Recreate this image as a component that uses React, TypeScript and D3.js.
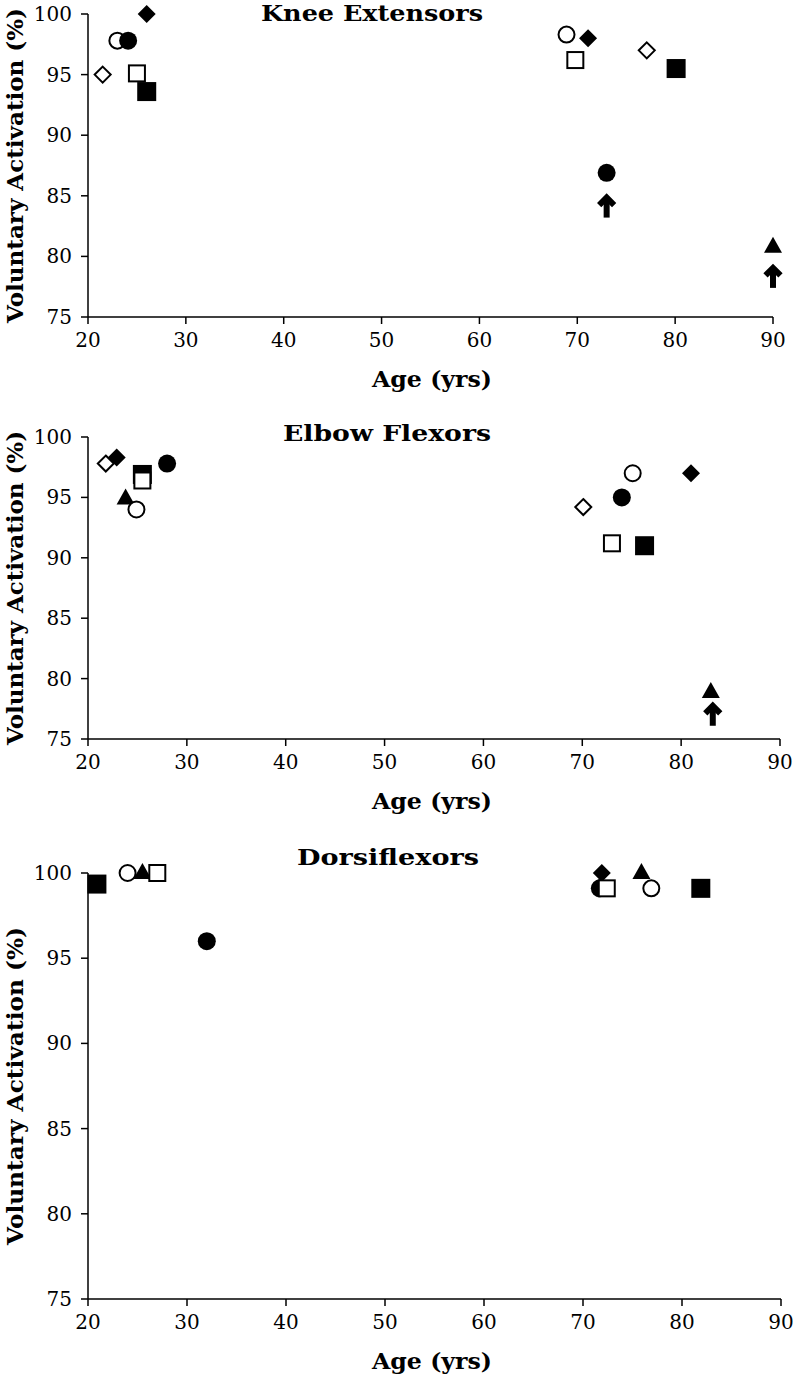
import React from "react";
import * as d3 from "d3";

// ---------- data ----------
const xTicks = [20, 30, 40, 50, 60, 70, 80, 90];
const yTicks = [75, 80, 85, 90, 95, 100];
const titles = ["Knee Extensors", "Elbow Flexors", "Dorsiflexors"];
const xLabel = "Age (yrs)";
const yLabel = "Voluntary Activation (%)";

// [age, voluntary activation %]
const kneeFilledTriangle = [[90, 80.8]];
const kneeOpenDiamond = [[21.5, 95.0], [77.1, 97.0]];
const kneeFilledDiamond = [[26.0, 100], [71.1, 98.0]];
const kneeOpenCircle = [[23.0, 97.8], [68.9, 98.3]];
const kneeFilledCircle = [[24.1, 97.8], [73.0, 86.9]];
const kneeFilledSquare = [[26.0, 93.6], [80.1, 95.5]];
const kneeOpenSquare = [[25.0, 95.1], [69.8, 96.2]];
const kneeArrows = [[73.0, 85.1], [90, 79.3]];

const elbowFilledTriangle = [[23.8, 94.9], [83.0, 78.9]];
const elbowOpenDiamond = [[21.8, 97.8], [70.1, 94.2]];
const elbowFilledDiamond = [[22.9, 98.3], [81.0, 97.0]];
const elbowOpenCircle = [[24.9, 94.0], [75.1, 97.0]];
const elbowFilledCircle = [[28.0, 97.8], [74.0, 95.0]];
const elbowFilledSquare = [[25.5, 96.9], [76.3, 91.0]];
const elbowOpenSquare = [[25.5, 96.4], [73.0, 91.2]];
const elbowArrows = [[83.2, 78.0]];

const dorsiFilledTriangle = [[25.5, 100], [75.9, 100]];
const dorsiOpenDiamond: number[][] = [];
const dorsiFilledDiamond = [[71.9, 100]];
const dorsiOpenCircle = [[24.0, 100], [76.9, 99.1]];
const dorsiFilledCircle = [[32.0, 96.0], [71.7, 99.1]];
const dorsiFilledSquare = [[20.9, 99.35], [81.9, 99.1]];
const dorsiOpenSquare = [[27.0, 100], [72.4, 99.1]];
const dorsiArrows: number[][] = [];

type Series = { shape: string; filled: boolean; pts: number[][] };

const panelSeries: Series[][] = [
  [
    { shape: "triangle", filled: true, pts: kneeFilledTriangle },
    { shape: "diamond", filled: false, pts: kneeOpenDiamond },
    { shape: "diamond", filled: true, pts: kneeFilledDiamond },
    { shape: "circle", filled: false, pts: kneeOpenCircle },
    { shape: "circle", filled: true, pts: kneeFilledCircle },
    { shape: "square", filled: true, pts: kneeFilledSquare },
    { shape: "square", filled: false, pts: kneeOpenSquare },
  ],
  [
    { shape: "triangle", filled: true, pts: elbowFilledTriangle },
    { shape: "diamond", filled: false, pts: elbowOpenDiamond },
    { shape: "diamond", filled: true, pts: elbowFilledDiamond },
    { shape: "circle", filled: false, pts: elbowOpenCircle },
    { shape: "circle", filled: true, pts: elbowFilledCircle },
    { shape: "square", filled: true, pts: elbowFilledSquare },
    { shape: "square", filled: false, pts: elbowOpenSquare },
  ],
  [
    { shape: "triangle", filled: true, pts: dorsiFilledTriangle },
    { shape: "diamond", filled: false, pts: dorsiOpenDiamond },
    { shape: "diamond", filled: true, pts: dorsiFilledDiamond },
    { shape: "circle", filled: false, pts: dorsiOpenCircle },
    { shape: "circle", filled: true, pts: dorsiFilledCircle },
    { shape: "square", filled: true, pts: dorsiFilledSquare },
    { shape: "square", filled: false, pts: dorsiOpenSquare },
  ],
];
const panelArrows = [kneeArrows, elbowArrows, dorsiArrows];

// ---------- layout ----------
const W = 793;
const H = 1375;
const layouts = [
  { x0: 88, x1: 773, yTop: 14, yBot: 317, titleX: 372, titleY: 21, titleW: 222 },
  { x0: 88, x1: 780, yTop: 437, yBot: 739, titleX: 387, titleY: 441, titleW: 208 },
  { x0: 88, x1: 781, yTop: 873, yBot: 1299, titleX: 388, titleY: 865, titleW: 182 },
];

const FONT = "'DejaVu Serif', Georgia, serif";

function Marker({ shape, filled, x, y }: { shape: string; filled: boolean; x: number; y: number }) {
  const fill = filled ? "#000" : "#fff";
  const stroke = "#000";
  const sw = filled ? 0 : 2;
  if (shape === "circle") {
    return <circle cx={x} cy={y} r={filled ? 9 : 8} fill={fill} stroke={stroke} strokeWidth={sw} />;
  }
  if (shape === "square") {
    const s = filled ? 19 : 16;
    return <rect x={x - s / 2} y={y - s / 2} width={s} height={s} fill={fill} stroke={stroke} strokeWidth={sw} />;
  }
  if (shape === "diamond") {
    const h = filled ? 9 : 8;
    return (
      <path d={`M${x},${y - h}L${x + h},${y}L${x},${y + h}L${x - h},${y}Z`} fill={fill} stroke={stroke} strokeWidth={sw} />
    );
  }
  return <path d={`M${x},${y - 10}L${x + 9},${y + 6}L${x - 9},${y + 6}Z`} fill={fill} stroke={stroke} strokeWidth={sw} />;
}

function Arrow({ x, y }: { x: number; y: number }) {
  return (
    <g fill="none" stroke="#000" strokeWidth={6} strokeLinejoin="miter">
      <path d={`M${x - 7.5},${y + 10.5}L${x},${y + 3}L${x + 7.5},${y + 10.5}`} />
      <path d={`M${x},${y + 3}L${x},${y + 23}`} strokeLinecap="butt" />
    </g>
  );
}

function Panel({ idx }: { idx: number }) {
  const L = layouts[idx];
  const xs = d3.scaleLinear().domain([20, 90]).range([L.x0, L.x1]);
  const ys = d3.scaleLinear().domain([75, 100]).range([L.yBot, L.yTop]);
  const series = panelSeries[idx];
  const arrows = panelArrows[idx];
  const midY = (L.yTop + L.yBot) / 2;
  const yLabLen = Math.min(318, L.yBot - L.yTop + 12);
  return (
    <g>
      <text
        x={L.titleX}
        y={L.titleY}
        textAnchor="middle"
        fontFamily={FONT}
        fontWeight="bold"
        fontSize={22}
        textLength={L.titleW}
        lengthAdjust="spacingAndGlyphs"
      >
        {titles[idx]}
      </text>
      <line x1={xs(20)} x2={xs(20)} y1={ys(100)} y2={ys(75)} stroke="#000" strokeWidth={1.5} />
      <line x1={xs(20)} x2={xs(90)} y1={ys(75)} y2={ys(75)} stroke="#000" strokeWidth={1.5} />
      {yTicks.map((t) => (
        <g key={"y" + t}>
          <line x1={xs(20) - 7} x2={xs(20)} y1={ys(t)} y2={ys(t)} stroke="#000" strokeWidth={1.5} />
          <text x={xs(20) - 16} y={ys(t)} dy="0.35em" textAnchor="end" fontFamily={FONT} fontSize={20}>
            {t}
          </text>
        </g>
      ))}
      {xTicks.map((t) => (
        <g key={"x" + t}>
          <line x1={xs(t)} x2={xs(t)} y1={ys(75)} y2={ys(75) + 7} stroke="#000" strokeWidth={1.5} />
          <text x={xs(t)} y={ys(75) + 23} dy="0.35em" textAnchor="middle" fontFamily={FONT} fontSize={20}>
            {t}
          </text>
        </g>
      ))}
      <text
        x={432}
        y={ys(75) + 62}
        dy="0.35em"
        textAnchor="middle"
        fontFamily={FONT}
        fontWeight="bold"
        fontSize={22}
        textLength={120}
        lengthAdjust="spacingAndGlyphs"
      >
        {xLabel}
      </text>
      <text
        transform={`translate(15,${midY}) rotate(-90)`}
        dy="0.35em"
        textAnchor="middle"
        fontFamily={FONT}
        fontWeight="bold"
        fontSize={22}
        textLength={yLabLen}
        lengthAdjust="spacingAndGlyphs"
      >
        {yLabel}
      </text>
      {series.map((s, si) =>
        s.pts.map((p, pi) => (
          <Marker key={si + "-" + pi} shape={s.shape} filled={s.filled} x={xs(p[0])} y={ys(p[1])} />
        ))
      )}
      {arrows.map((a, ai) => (
        <Arrow key={"a" + ai} x={xs(a[0])} y={ys(a[1])} />
      ))}
    </g>
  );
}

export default function App() {
  return (
    <div style={{ position: "absolute", left: 0, top: 0 }}>
      <svg width={W} height={H} style={{ display: "block", background: "#fff" }}>
        <rect width={W} height={H} fill="#fff" />
        {[0, 1, 2].map((i) => (
          <Panel key={i} idx={i} />
        ))}
      </svg>
    </div>
  );
}
